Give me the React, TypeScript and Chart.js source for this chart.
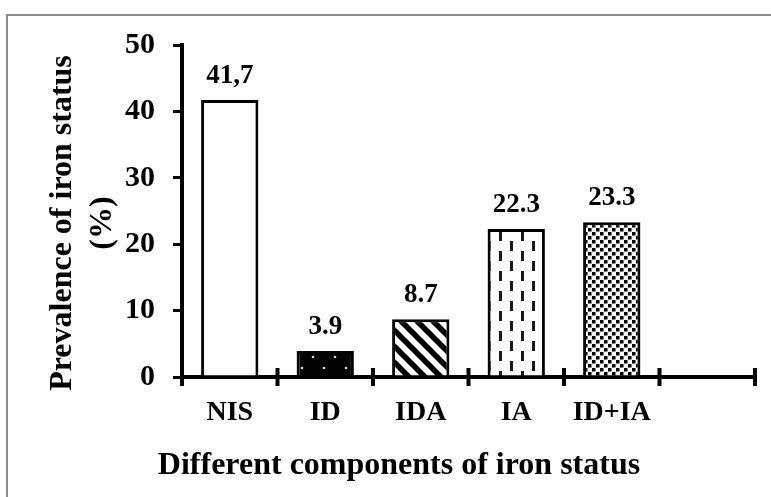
import React, { useEffect, useRef } from 'react';
import { Chart, registerables } from 'chart.js';

Chart.register(...registerables);

// ---- data ----
const categories = ['NIS', 'ID', 'IDA', 'IA', 'ID+IA', ''];
const prevalence = [41.7, 3.9, 8.7, 22.3, 23.3, null];
const valueLabels = ['41,7', '3.9', '8.7', '22.3', '23.3', ''];
const fillKinds = ['plain', 'dots', 'diagonal', 'dashes', 'checker', 'plain'];
const yTitleLines = ['Prevalence of iron status', '(%)'];
const xTitleText = 'Different components of iron status';
const yMin = 0;
const yMax = 50;
const yStep = 10;

const FONT = "'Liberation Serif', 'Times New Roman', serif";

function makeFill(kind: string): any {
  const c = document.createElement('canvas');
  const ctx = c.getContext('2d')!;
  if (kind === 'dots') {
    c.width = 22; c.height = 22;
    ctx.fillStyle = '#000'; ctx.fillRect(0, 0, 22, 22);
    ctx.fillStyle = '#d8d8d8';
    ctx.beginPath(); ctx.arc(5, 5, 1.3, 0, Math.PI * 2); ctx.fill();
    ctx.beginPath(); ctx.arc(16, 16, 1.3, 0, Math.PI * 2); ctx.fill();
  } else if (kind === 'diagonal') {
    const s = 16;
    c.width = s; c.height = s;
    ctx.fillStyle = '#fff'; ctx.fillRect(0, 0, s, s);
    ctx.strokeStyle = '#000'; ctx.lineWidth = 5.5;
    for (let k = -1; k <= 1; k++) {
      ctx.beginPath(); ctx.moveTo(k * s - 2, -2); ctx.lineTo(k * s + s + 2, s + 2); ctx.stroke();
    }
  } else if (kind === 'dashes') {
    c.width = 22; c.height = 20;
    ctx.fillStyle = '#fff'; ctx.fillRect(0, 0, 22, 20);
    ctx.fillStyle = '#1a1a1a';
    ctx.fillRect(4, 1, 3, 10);
    ctx.fillRect(15, 11, 3, 10);
    ctx.fillRect(15, -9, 3, 10);
  } else if (kind === 'checker') {
    c.width = 8; c.height = 8;
    ctx.fillStyle = '#fff'; ctx.fillRect(0, 0, 8, 8);
    ctx.fillStyle = '#000';
    ctx.fillRect(0, 0, 3.5, 3.5);
    ctx.fillRect(4, 4, 3.5, 3.5);
  } else {
    return '#ffffff';
  }
  return ctx.createPattern(c, 'repeat');
}

const framePlugin = {
  id: 'frame',
  beforeDraw(chart: any) {
    const ctx = chart.ctx;
    ctx.save();
    ctx.fillStyle = '#fff';
    ctx.fillRect(0, 0, chart.width, chart.height);
    ctx.strokeStyle = '#8c8c8c';
    ctx.lineWidth = 2;
    ctx.beginPath();
    ctx.moveTo(7, chart.height + 2);
    ctx.lineTo(7, 15);
    ctx.lineTo(chart.width + 2, 15);
    ctx.stroke();
    ctx.restore();
  },
};

const crossTicksPlugin = {
  id: 'crossTicks',
  afterDraw(chart: any) {
    const x = chart.scales.x;
    const ctx = chart.ctx;
    const n = categories.length;
    const half = (x.getPixelForValue(1) - x.getPixelForValue(0)) / 2;
    const y0 = chart.chartArea.bottom;
    ctx.save();
    ctx.strokeStyle = '#000';
    ctx.lineWidth = 4;
    for (let i = 0; i <= n; i++) {
      const px = i < n ? x.getPixelForValue(i) - half : x.getPixelForValue(n - 1) + half;
      ctx.beginPath();
      ctx.moveTo(px, y0 - 9);
      ctx.lineTo(px, y0 + 9);
      ctx.stroke();
    }
    ctx.restore();
  },
};

const valueLabelPlugin = {
  id: 'valueLabels',
  afterDatasetsDraw(chart: any) {
    const meta = chart.getDatasetMeta(0);
    const ctx = chart.ctx;
    ctx.save();
    ctx.fillStyle = '#000';
    ctx.font = `bold 27px ${FONT}`;
    ctx.textAlign = 'center';
    ctx.textBaseline = 'middle';
    meta.data.forEach((bar: any, i: number) => {
      if (prevalence[i] == null) return;
      ctx.fillText(valueLabels[i], bar.x, bar.y - 24);
    });
    ctx.restore();
  },
};

export default function App() {
  const ref = useRef<HTMLCanvasElement>(null);
  useEffect(() => {
    const canvas = ref.current!;
    const chart = new Chart(canvas, {
      type: 'bar',
      data: {
        labels: categories,
        datasets: [
          {
            data: prevalence as any,
            backgroundColor: fillKinds.map(makeFill),
            borderColor: '#000',
            borderWidth: 3,
            barPercentage: 0.6,
            categoryPercentage: 1,
          },
        ],
      },
      options: {
        responsive: false,
        animation: false,
        devicePixelRatio: 1,
        layout: { padding: { left: 43, right: 16, top: 45, bottom: 12 } },
        plugins: {
          legend: { display: false },
          tooltip: { enabled: false },
          title: {
            display: true,
            position: 'bottom',
            text: xTitleText,
            color: '#000',
            font: { family: FONT, size: 32, weight: 'bold', lineHeight: 1.2 },
            padding: { top: 0, bottom: 0 },
          },
        },
        scales: {
          x: {
            offset: true,
            grid: { display: false, drawTicks: false },
            border: { display: true, color: '#000', width: 4 },
            ticks: {
              color: '#000',
              padding: 19,
              font: { family: FONT, size: 28, weight: 'bold', lineHeight: 1.2 },
              maxRotation: 0,
              autoSkip: false,
            },
            afterFit(scale: any) { scale.height = 69.6; },
          },
          y: {
            min: yMin,
            max: yMax,
            grid: { display: true, drawOnChartArea: false, drawTicks: true, tickLength: 9, lineWidth: 3, color: '#000' },
            border: { display: true, color: '#000', width: 4 },
            ticks: {
              stepSize: yStep,
              color: '#000',
              padding: 18,
              font: { family: FONT, size: 30, weight: 'bold' },
            },
            title: {
              display: true,
              text: yTitleLines.map((s) => s + '   '),
              color: '#000',
              font: { family: FONT, size: 32, weight: 'bold', lineHeight: 40 / 32 },
              padding: { top: 0, bottom: 0 },
            },
            afterFit(scale: any) { scale.width = 139; },
          },
        },
      } as any,
      plugins: [framePlugin, crossTicksPlugin, valueLabelPlugin],
    });
    return () => chart.destroy();
  }, []);
  return (
    <div style={{ position: 'fixed', left: 0, top: 0, width: 771, height: 497, background: '#fff' }}>
      <canvas ref={ref} width={771} height={497} style={{ display: 'block', width: 771, height: 497 }} />
    </div>
  );
}
